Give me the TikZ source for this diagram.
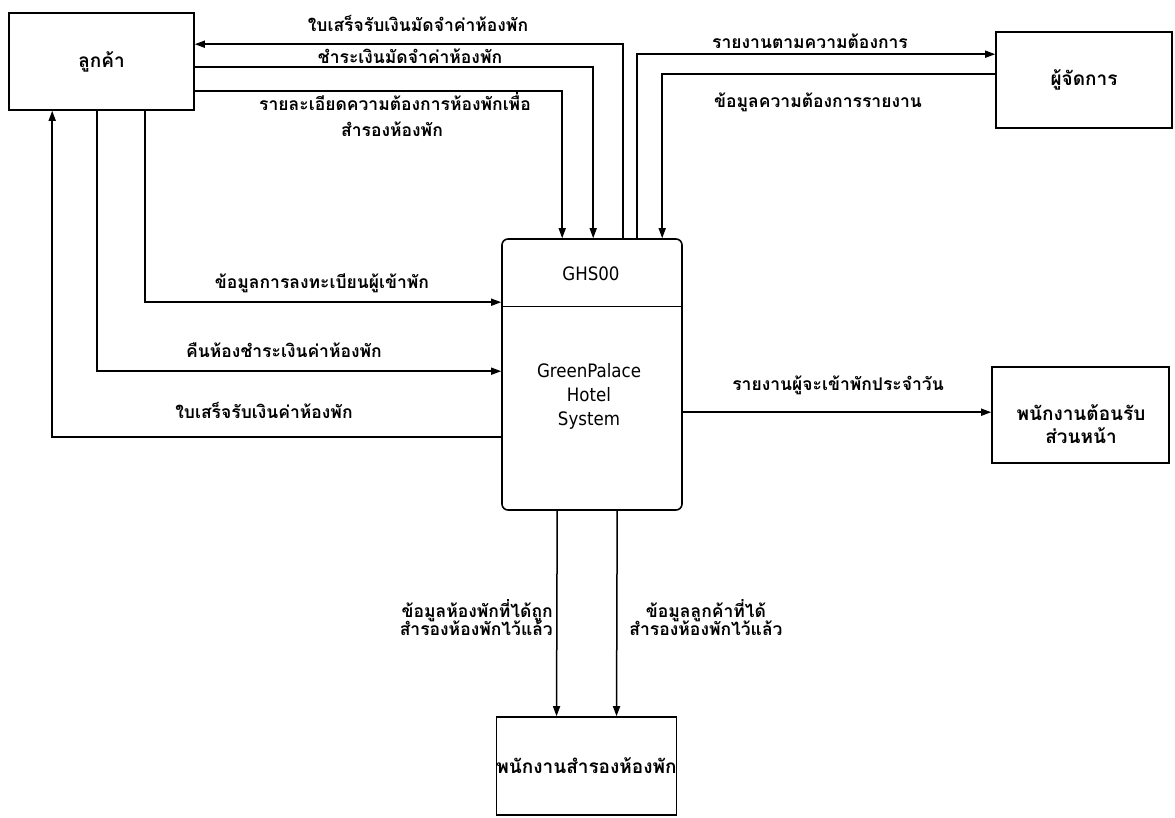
\documentclass[tikz,border=0pt]{standalone}
\usepackage{fontspec}
\newfontfamily\thai[Script=Thai]{Loma}
\newfontfamily\latin{DejaVu Sans Condensed}
\usetikzlibrary{arrows.meta}
\begin{document}
\begin{tikzpicture}[x=1pt,y=-1pt,
  box/.style={draw,line width=1.6pt,inner sep=0pt,font=\thai\bfseries\fontsize{19}{24}\selectfont,align=center},
  lbl/.style={font=\thai\bfseries\fontsize{17.5}{20}\selectfont,inner sep=0pt,anchor=base},
  boxtxt/.style={font=\thai\bfseries\fontsize{19}{24}\selectfont,inner sep=0pt,anchor=base},
  arr/.style={line width=1.5pt,-{Triangle[length=10pt,width=7pt]}}]
\useasboundingbox (0,0) rectangle (1175,817);
% boxes
\node[box,minimum width=185pt,minimum height=97pt] (cust) at (101.5,61.5) {ลูกค้า};
\node[box,minimum width=180pt,minimum height=271pt,rounded corners=6pt] (ghs) at (592,374.5) {};
\node[box,minimum width=176pt,minimum height=96pt] (mgr) at (1084,80) {ผู้จัดการ};
\node[box,minimum width=177pt,minimum height=96pt] (fd) at (1080.5,415) {};
\node[boxtxt] (fdt1) at (1081,420) {พนักงานต้อนรับ};
\node[boxtxt] (fdt2) at (1081,443) {ส่วนหน้า};
\node[box,minimum width=179pt,minimum height=98pt] (res) at (586.5,766) {พนักงานสำรองห้องพัก};
% GHS contents
\draw[line width=1.4pt] ([yshift=-68pt]ghs.north west) -- ([yshift=-68pt]ghs.north east);
\node[font=\latin\fontsize{18.5}{22}\selectfont,inner sep=0pt] (ghsid) at (591,274) {GHS00};
\node[font=\latin\fontsize{18.5}{24}\selectfont,align=center,inner sep=0pt] (ghsname) at (589,396) {GreenPalace\\Hotel\\System};
% connectors
\draw[arr] ([xshift=122pt]ghs.north west) |- ([yshift=-32pt]cust.north east);
\draw[arr] ([yshift=-55pt]cust.north east) -| ([xshift=92pt]ghs.north west);
\draw[arr] ([yshift=-79pt]cust.north east) -| ([xshift=61pt]ghs.north west);
\draw[arr] ([xshift=137pt]cust.south west) |- ([yshift=-64pt]ghs.north west);
\draw[arr] ([xshift=89pt]cust.south west) |- ([yshift=-133pt]ghs.north west);
\draw[arr] ([yshift=-199pt]ghs.north west) -| ([xshift=44pt]cust.south west);
\draw[arr] ([xshift=136pt]ghs.north west) |- ([yshift=-23pt]mgr.north west);
\draw[arr] ([yshift=-43pt]mgr.north west) -| ([xshift=161pt]ghs.north west);
\draw[arr] ([yshift=-174pt]ghs.north east) -- ([yshift=-46pt]fd.north west);
\draw[arr] ([xshift=56pt]ghs.south west) -- ([xshift=61pt]res.north west);
\draw[arr] ([xshift=116pt]ghs.south west) -- ([xshift=121pt]res.north west);
% labels
\node[lbl] (l1) at (418,31) {ใบเสร็จรับเงินมัดจำค่าห้องพัก};
\node[lbl] (l2) at (410,63) {ชำระเงินมัดจำค่าห้องพัก};
\node[lbl] (l3a) at (395,110) {รายละเอียดความต้องการห้องพักเพื่อ};
\node[lbl] (l3b) at (392,136) {สำรองห้องพัก};
\node[lbl] (l4) at (322,288) {ข้อมูลการลงทะเบียนผู้เข้าพัก};
\node[lbl] (l5) at (284,357) {คืนห้องชำระเงินค่าห้องพัก};
\node[lbl] (l6) at (264,418) {ใบเสร็จรับเงินค่าห้องพัก};
\node[lbl] (l7) at (810,48) {รายงานตามความต้องการ};
\node[lbl] (l8) at (818,107) {ข้อมูลความต้องการรายงาน};
\node[lbl] (l9) at (838,390) {รายงานผู้จะเข้าพักประจำวัน};
\node[lbl,anchor=base east] (l10a) at (553,617) {ข้อมูลห้องพักที่ได้ถูก};
\node[lbl,anchor=base east] (l10b) at (553,635) {สำรองห้องพักไว้แล้ว};
\node[lbl] (l11a) at (706,617) {ข้อมูลลูกค้าที่ได้};
\node[lbl] (l11b) at (706,635) {สำรองห้องพักไว้แล้ว};
\end{tikzpicture}
\end{document}
